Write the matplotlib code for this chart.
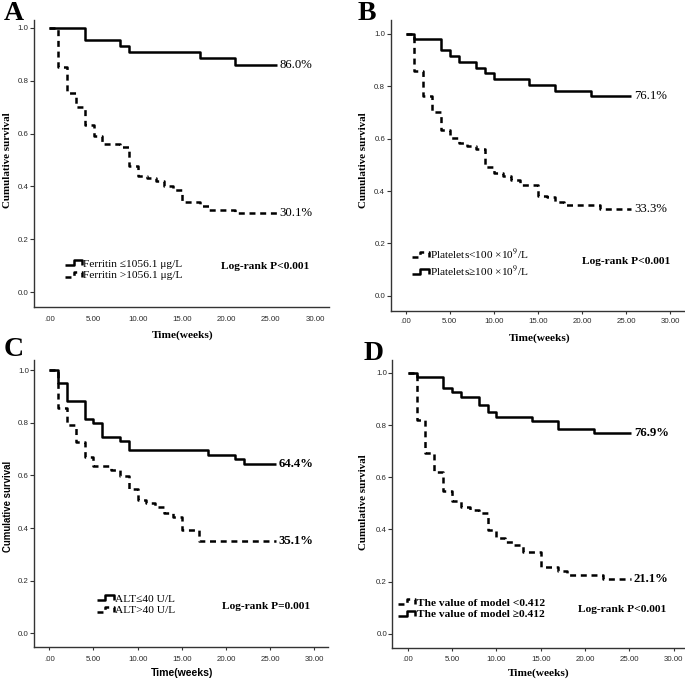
import matplotlib
matplotlib.use('Agg')
import matplotlib.pyplot as plt
from matplotlib.lines import Line2D
from matplotlib.legend_handler import HandlerBase
from matplotlib.font_manager import FontProperties

plt.rcParams['lines.scale_dashes'] = False
plt.rcParams['mathtext.fontset'] = 'stix'

SERIF = 'Liberation Serif'
SANS = 'Liberation Sans'

# ---------------- data ----------------
# Panel A: ferritin
A_low_t = [0, 4, 8, 9, 17, 21]
A_low_s = [1.0, 0.953, 0.930, 0.907, 0.884, 0.860]
A_high_t = [0, 1, 2, 3, 4, 5, 6, 8, 9, 10, 11, 12, 13, 14, 15, 17, 18, 21]
A_high_s = [1.0, 0.853, 0.755, 0.700, 0.632, 0.592, 0.560, 0.548, 0.477, 0.440,
            0.433, 0.420, 0.402, 0.387, 0.343, 0.325, 0.311, 0.301]
A_end = 25.7
A_labels = ['Ferritin \u22641056.1 \u03bcg/L', 'Ferritin >1056.1 \u03bcg/L']
A_pct = ['86.0%', '30.1%']
A_p = 'Log-rank P<0.001'

# Panel B: platelets
B_high_t = [0, 1, 4, 5, 6, 8, 9, 10, 14, 17, 21]
B_high_s = [1.0, 0.980, 0.937, 0.916, 0.894, 0.871, 0.850, 0.828, 0.805, 0.783, 0.761]
B_low_t = [0, 1, 2, 3, 4, 5, 6, 7, 8, 9, 10, 11, 12, 13, 15, 16, 17, 18, 22]
B_low_s = [1.0, 0.857, 0.762, 0.703, 0.633, 0.601, 0.582, 0.570, 0.560, 0.493,
           0.468, 0.458, 0.443, 0.423, 0.381, 0.376, 0.357, 0.347, 0.333]
B_end = 25.6
B_labels = ['Platelets<100 \u00d710$^{9}$/L', 'Platelets\u2265100 \u00d710$^{9}$/L']
B_pct = ['76.1%', '33.3%']
B_p = 'Log-rank P<0.001'

# Panel C: ALT
C_low_t = [0, 1, 2, 4, 5, 6, 8, 9, 18, 21, 22]
C_low_s = [1.0, 0.949, 0.881, 0.813, 0.797, 0.746, 0.729, 0.695, 0.678, 0.661, 0.644]
C_high_t = [0, 1, 2, 3, 4, 5, 7, 8, 9, 10, 11, 12, 13, 14, 15, 17]
C_high_s = [1.0, 0.857, 0.791, 0.727, 0.671, 0.635, 0.622, 0.596, 0.547, 0.507,
            0.494, 0.481, 0.456, 0.443, 0.391, 0.351]
C_end = 25.7
C_labels = ['ALT\u226440 U/L', 'ALT>40 U/L']
C_pct = ['64.4%', '35.1%']
C_p = 'Log-rank P=0.001'

# Panel D: model
D_high_t = [0, 1, 4, 5, 6, 8, 9, 10, 14, 17, 21]
D_high_s = [1.0, 0.985, 0.940, 0.925, 0.908, 0.878, 0.851, 0.832, 0.817, 0.785, 0.769]
D_low_t = [0, 1, 2, 3, 4, 5, 6, 7, 8, 9, 10, 11, 12, 13, 15, 17, 18, 22]
D_low_s = [1.0, 0.820, 0.694, 0.621, 0.547, 0.509, 0.487, 0.474, 0.464, 0.398,
           0.366, 0.353, 0.341, 0.313, 0.255, 0.240, 0.226, 0.211]
D_end = 25.2
D_labels = ['The value of model <0.412', 'The value of model \u22650.412']
D_pct = ['76.9%', '21.1%']
D_p = 'Log-rank P<0.001'

x_ticks = [0, 5, 10, 15, 20, 25, 30]
x_ticklabels = ['.00', '5.00', '10.00', '15.00', '20.00', '25.00', '30.00']
y_ticks = [0.0, 0.2, 0.4, 0.6, 0.8, 1.0]
y_ticklabels = ['0.0', '0.2', '0.4', '0.6', '0.8', '1.0']

# ---------------- layout ----------------
W, H = 685, 682
fig = plt.figure(figsize=(W / 100, H / 100), dpi=100)


def rect(l, r, t, b):
    return [l / W, 1 - b / H, (r - l) / W, (b - t) / H]


def fx(x):
    return x / W


def fy(y):
    return 1 - y / H


class StepHandler(HandlerBase):
    def create_artists(self, legend, orig_handle, xdescent, ydescent,
                       width, height, fontsize, trans):
        xs = [0.0, 0.5, 0.5, 1.0, 1.0]
        ys = [0.2, 0.2, 0.8, 0.8, 0.2]
        ln = Line2D([0], [0])
        ln.update_from(orig_handle)
        ln.set_data([-xdescent + width * v for v in xs],
                    [-ydescent + height * v for v in ys])
        ln.set_transform(trans)
        return [ln]


DASH = (4.3, 3.4)
LW = 1.8

panels = [
    dict(key='A', rect=rect(34.0, 329.3, 20, 306.9), ylim=(-0.055, 1.029),
         solid=(A_low_t, A_low_s), dashed=(A_high_t, A_high_s), end=A_end,
         order=('solid', 'dashed'), labels=A_labels, pct=A_pct, p=A_p,
         xtick_len=0, xpad=6.5, sans=False, leg_xy=(0.105, 0.131),
         p_xy=(0.782, 0.140), letter=(14, 13.5), ylab=(8, 160), xlab=(183, 335),
         pct_bold=False, leg_bold=False),
    dict(key='B', rect=rect(390.5, 684.1, 20, 310.7), ylim=(-0.057, 1.053),
         solid=(B_high_t, B_high_s), dashed=(B_low_t, B_low_s), end=B_end,
         order=('dashed', 'solid'), labels=B_labels, pct=B_pct, p=B_p,
         xtick_len=2.2, xpad=3.3, sans=False, leg_xy=(0.072, 0.165),
         p_xy=(0.804, 0.169), letter=(367, 13.5), ylab=(364, 160), xlab=(540, 338),
         pct_bold=False, leg_bold=False),
    dict(key='C', rect=rect(34.1, 328.3, 360, 647.3), ylim=(-0.053, 1.038),
         solid=(C_low_t, C_low_s), dashed=(C_high_t, C_high_s), end=C_end,
         order=('solid', 'dashed'), labels=C_labels, pct=C_pct, p=C_p,
         xtick_len=2.2, xpad=3.8, sans=True, leg_xy=(0.213, 0.150),
         p_xy=(0.788, 0.141), letter=(14, 350), ylab=(8, 506), xlab=(182, 673),
         pct_bold=True, leg_bold=False),
    dict(key='D', rect=rect(392.4, 688.0, 360, 648.3), ylim=(-0.055, 1.049),
         solid=(D_high_t, D_high_s), dashed=(D_low_t, D_low_s), end=D_end,
         order=('dashed', 'solid'), labels=D_labels, pct=D_pct, p=D_p,
         xtick_len=2.2, xpad=3.3, sans=False, leg_xy=(0.020, 0.139),
         p_xy=(0.777, 0.133), letter=(374, 353), ylab=(364, 502), xlab=(539, 673),
         pct_bold=True, leg_bold=True),
]

for P in panels:
    ax = fig.add_axes(P['rect'])
    ax.set_xlim(-1.72, 31.6)
    ax.set_ylim(*P['ylim'])
    for s in ('top', 'right'):
        ax.spines[s].set_visible(False)
    for s in ('left', 'bottom'):
        ax.spines[s].set_color('#333333')
        ax.spines[s].set_linewidth(1.0)

    st, ss = P['solid']
    dt, ds = P['dashed']
    end = P['end']
    h_solid, = ax.step(list(st) + [end], list(ss) + [ss[-1]], where='post',
                       color='black', lw=LW, solid_capstyle='butt')
    h_dash, = ax.step(list(dt) + [end], list(ds) + [ds[-1]], where='post',
                      color='black', lw=LW, linestyle='--', dashes=DASH,
                      dash_capstyle='butt')

    ax.set_xticks(x_ticks)
    ax.set_xticklabels(x_ticklabels)
    ax.set_yticks(y_ticks)
    ax.set_yticklabels(y_ticklabels)
    ax.tick_params(axis='x', length=P['xtick_len'], width=0.8, color='#333333',
                   pad=P['xpad'], labelsize=5.7, labelcolor='#2a2a2a')
    ax.tick_params(axis='y', length=2.8, width=0.8, color='#333333',
                   pad=1.0, labelsize=5.7, labelcolor='#2a2a2a')
    for lab in ax.get_xticklabels() + ax.get_yticklabels():
        lab.set_fontfamily(SANS)

    # percentages at end of curves
    pw = 'bold' if P['pct_bold'] else 'normal'
    ax.text(end + 0.3, ss[-1], P['pct'][0], ha='left', va='center',
            fontfamily=SERIF, fontsize=9.2, fontweight=pw)
    ax.text(end + 0.3, ds[-1], P['pct'][1], ha='left', va='center',
            fontfamily=SERIF, fontsize=9.2, fontweight=pw)

    # legend
    hmap = {'solid': h_solid, 'dashed': h_dash}
    handles = [hmap[o] for o in P['order']]
    fp = FontProperties(family=SERIF, size=8.2,
                        weight='bold' if P['leg_bold'] else 'normal')
    ax.legend(handles, P['labels'], loc='center left',
              bbox_to_anchor=P['leg_xy'], frameon=False, borderpad=0,
              borderaxespad=0, handlelength=1.5, handleheight=0.75,
              handletextpad=0.12, labelspacing=0.12, prop=fp,
              handler_map={Line2D: StepHandler()})

    # log-rank annotation
    ax.text(P['p_xy'][0], P['p_xy'][1], P['p'], transform=ax.transAxes,
            ha='center', va='center', fontfamily=SERIF, fontsize=8.2,
            fontweight='bold')

    # axis titles and panel letter
    fam = SANS if P['sans'] else SERIF
    fig.text(fx(P['ylab'][0]), fy(P['ylab'][1]), 'Cumulative survival',
             rotation=90, ha='center', va='center', fontfamily=fam,
             fontsize=6.9 if P['sans'] else 7.9, fontweight='bold')
    fig.text(fx(P['xlab'][0]), fy(P['xlab'][1]), 'Time(weeks)',
             ha='center', va='center', fontfamily=fam,
             fontsize=7.6 if P['sans'] else 8.2, fontweight='bold')
    fig.text(fx(P['letter'][0]), fy(P['letter'][1]), P['key'],
             ha='center', va='center', fontfamily=SERIF, fontsize=20,
             fontweight='bold')

fig.savefig('out.png', dpi=100)
